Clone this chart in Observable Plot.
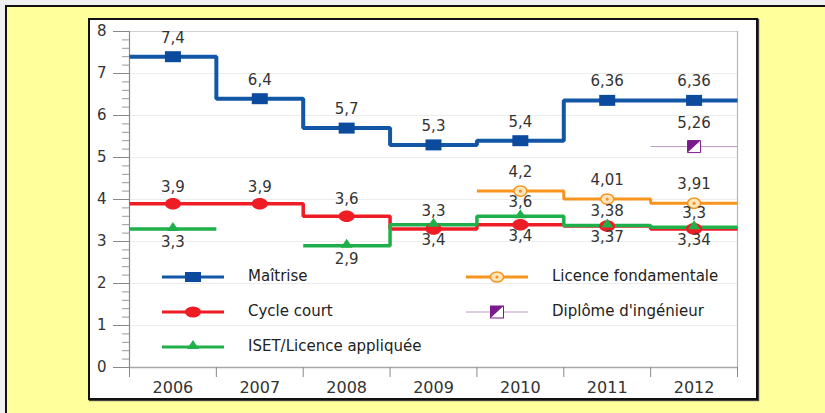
<!DOCTYPE html>
<html>
<head>
<meta charset="utf-8">
<script src="https://cdn.jsdelivr.net/npm/d3@7"></script>
<script src="https://cdn.jsdelivr.net/npm/@observablehq/plot@0.6"></script>
<style>
  html, body { margin: 0; padding: 0; }
  body { width: 825px; height: 413px; background: #f0f0f0; position: relative; overflow: hidden; font-family: "DejaVu Sans", sans-serif; }
  #yellow { position: absolute; left: 5px; top: 5px; right: 0; bottom: 0; background: #ffff9c; border-top: 2px solid #111; border-left: 2px solid #111; }
  #panel { position: absolute; left: 88px; top: 18px; width: 666px; height: 378px; background: #fff; border: 2px solid #111; box-shadow: 1px 1px 1px #444; }
  #chart { position: absolute; left: 0; top: 0; }
  #legend { position: absolute; left: 0; top: 0; width: 825px; height: 413px; pointer-events: none; }
  .lg { position: absolute; font-size: 15px; color: #222; line-height: 18px; white-space: nowrap; }
</style>
</head>
<body>
<div id="yellow"></div>
<div id="panel"></div>
<div id="chart"></div>
<svg id="legend" width="825" height="413"></svg>
<script>
// ---- data ----
const years = [2006, 2007, 2008, 2009, 2010, 2011, 2012];
const maitrise = [7.4, 6.4, 5.7, 5.3, 5.4, 6.36, 6.36];
const cycleCourt = [3.9, 3.9, 3.6, 3.3, 3.4, 3.37, 3.3];
const iset = [3.3, null, 2.9, 3.4, 3.6, 3.38, 3.34];
const licenceFond = [null, null, null, null, 4.2, 4.01, 3.91];
const diplome = [null, null, null, null, null, null, 5.26];

const maitriseLabels = ["7,4", "6,4", "5,7", "5,3", "5,4", "6,36", "6,36"];
const cycleLabels = ["3,9", "3,9", "3,6", "3,4", "3,4", "3,37", "3,34"];
const isetLabels = ["3,3", "", "2,9", "3,3", "3,6", "3,38", "3,3"];
const licenceLabels = ["", "", "", "", "4,2", "4,01", "3,91"];
const diplomeLabels = ["", "", "", "", "", "", "5,26"];

const seriesNames = ["Maîtrise", "Cycle court", "ISET/Licence appliquée", "Licence fondamentale", "Diplôme d'ingénieur"];
const yTicks = [0, 1, 2, 3, 4, 5, 6, 7, 8];

// label placement (below the line?)
const cycleBelow = [false, false, false, true, true, true, true];
const isetBelow = [true, false, true, false, false, false, false];

// ---- styles ----
const colors = {
  "Maîtrise": "#1257a6",
  "Cycle court": "#ee1c24",
  "ISET/Licence appliquée": "#20b04b",
  "Licence fondamentale": "#f7941d",
  "Diplôme d'ingénieur": "#7b1a8e"
};

const seriesValues = [maitrise, cycleCourt, iset, licenceFond, diplome];
const seriesLabels = [maitriseLabels, cycleLabels, isetLabels, licenceLabels, diplomeLabels];

function stepData(name, values) {
  const out = [];
  values.forEach((v, i) => {
    if (v == null) out.push({s: name, x: years[i], y: NaN});
    else {
      out.push({s: name, x: years[i] - 0.5, y: v});
      out.push({s: name, x: years[i] + 0.5, y: v});
    }
  });
  return out;
}
function pointData(name, values, labels, below) {
  return values.map((v, i) => ({s: name, x: years[i], y: v, t: labels[i], below: below ? below[i] : false}))
    .filter(d => d.y != null);
}

const steps = seriesNames.map((n, k) => stepData(n, seriesValues[k]));
const pts = seriesNames.map((n, k) => pointData(n, seriesValues[k], seriesLabels[k], k === 1 ? cycleBelow : k === 2 ? isetBelow : null));

// custom symbols
const rectSym = {draw(c) { c.rect(-8, -5.5, 16, 11); }};
function ellipse(c, rx, ry) {
  const k = 0.5523;
  c.moveTo(rx, 0);
  c.bezierCurveTo(rx, ry * k, rx * k, ry, 0, ry);
  c.bezierCurveTo(-rx * k, ry, -rx, ry * k, -rx, 0);
  c.bezierCurveTo(-rx, -ry * k, -rx * k, -ry, 0, -ry);
  c.bezierCurveTo(rx * k, -ry, rx, -ry * k, rx, 0);
  c.closePath();
}
const redSym = {draw(c) { ellipse(c, 8, 5.8); }};
const ringSym = {draw(c) { ellipse(c, 6.5, 5.2); }};
const triSym = {draw(c) { c.moveTo(0, -7); c.lineTo(6, 2); c.lineTo(-6, 2); c.closePath(); }};
const sqSym = {draw(c) { c.rect(-6.5, -6, 13, 12); }};
const halfSym = {draw(c) { c.moveTo(-6.5, -6); c.lineTo(6.5, -6); c.lineTo(-6.5, 6); c.closePath(); }};

const widths = [4, 3.5, 3.5, 3, 1];
const lineColors = [colors["Maîtrise"], colors["Cycle court"], colors["ISET/Licence appliquée"], colors["Licence fondamentale"], "#b99ac6"];

const txt = {fill: "#333", fontSize: 15, fontFamily: "DejaVu Sans"};

const chart = Plot.plot({
  width: 825,
  height: 413,
  marginLeft: 129,
  marginRight: 88,
  marginTop: 31,
  marginBottom: 46,
  x: {domain: [2005.5, 2012.5], label: null},
  y: {domain: [0, 8], label: null},
  style: {background: "transparent", fontFamily: "DejaVu Sans", overflow: "visible"},
  marks: [
    Plot.ruleY(yTicks.filter(d => d > 0 && d < 8), {stroke: "#ececec", strokeWidth: 1}),
    Plot.ruleY([8], {stroke: "#cfcfcf", strokeWidth: 1.2}),
    Plot.ruleX([2012.5], {stroke: "#b5b5b5", strokeWidth: 1.2}),
    Plot.ruleX([2005.5], {stroke: "#8a8a8a", strokeWidth: 1.2}),
    Plot.ruleY([0], {stroke: "#a8a8a8", strokeWidth: 1.5}),
    Plot.axisY({ticks: yTicks, tickSize: 16, tickPadding: 7, stroke: "#888", fill: "#333", fontSize: 15, label: null, tickFormat: d => String(d)}),
    Plot.axisY({ticks: d3.range(0, 8.001, 0.2).filter(v => Math.abs(v - Math.round(v)) > 1e-6), tickSize: 7, stroke: "#999", label: null, tickFormat: () => ""}),
    Plot.axisX({ticks: d3.range(2005.5, 2013, 1), tickSize: 10, stroke: "#888", label: null, tickFormat: () => ""}),
    Plot.axisX({ticks: years, tickSize: 0, tickPadding: 14, fill: "#333", fontSize: 16, label: null, tickFormat: d => String(d)}),
    // lines (drawing order: blue, red, green, orange, purple)
    ...steps.map((data, k) => Plot.line(data, {x: "x", y: "y", stroke: lineColors[k], strokeWidth: widths[k], curve: "linear", strokeLinejoin: "miter", strokeLinecap: "butt"})),
    // markers
    Plot.dot(pts[0], {x: "x", y: "y", symbol: rectSym, fill: "#0c4a9e", stroke: "none"}),
    Plot.dot(pts[1], {x: "x", y: "y", symbol: redSym, fill: "#ee1c24", stroke: "none"}),
    Plot.dot(pts[2], {x: "x", y: "y", symbol: triSym, fill: "#20b04b", stroke: "none"}),
    Plot.dot(pts[3], {x: "x", y: "y", symbol: ringSym, fill: "#fde6bd", stroke: "#f7941d", strokeWidth: 1.5}),
    Plot.dot(pts[3], {x: "x", y: "y", r: 1.6, fill: "#f7941d", stroke: "none"}),
    Plot.dot(pts[4], {x: "x", y: "y", symbol: sqSym, fill: "#fff", stroke: "#7b1a8e", strokeWidth: 1}),
    Plot.dot(pts[4], {x: "x", y: "y", symbol: halfSym, fill: "#7b1a8e", stroke: "none"}),
    // value labels
    Plot.text(pts[0], {x: "x", y: "y", text: "t", dy: -19, ...txt}),
    Plot.text(pts[1].filter(d => !d.below), {x: "x", y: "y", text: "t", dy: -17, ...txt}),
    Plot.text(pts[1].filter(d => d.below), {x: "x", y: "y", text: "t", dy: 11, ...txt}),
    Plot.text(pts[2].filter(d => !d.below && d.t), {x: "x", y: "y", text: "t", dy: -14, ...txt}),
    Plot.text(pts[2].filter(d => d.below && d.t), {x: "x", y: "y", text: "t", dy: 13, ...txt}),
    Plot.text(pts[3], {x: "x", y: "y", text: "t", dy: -19, ...txt}),
    Plot.text(pts[4], {x: "x", y: "y", text: "t", dy: -23, ...txt})
  ]
});
document.getElementById("chart").appendChild(chart);

// ---- legend (inside plot area) ----
const lg = d3.select("#legend");
const legendItems = [
  {name: seriesNames[0], x: 162, y: 277},
  {name: seriesNames[1], x: 162, y: 312},
  {name: seriesNames[2], x: 162, y: 347},
  {name: seriesNames[3], x: 466, y: 277},
  {name: seriesNames[4], x: 466, y: 312}
];
legendItems.forEach((it, k) => {
  const cx = it.x + 31;
  lg.append("line").attr("x1", it.x).attr("x2", it.x + 62).attr("y1", it.y).attr("y2", it.y)
    .attr("stroke", lineColors[k]).attr("stroke-width", k === 4 ? 1 : 3);
  const g = lg.append("g").attr("transform", `translate(${cx},${it.y})`);
  if (k === 0) { g.append("rect").attr("x", -8).attr("y", -5).attr("width", 16).attr("height", 10).attr("fill", "#0c4a9e"); }
  if (k === 1) { g.append("ellipse").attr("rx", 8).attr("ry", 5.5).attr("fill", "#ee1c24"); }
  if (k === 2) { g.append("path").attr("d", "M0,-7L6,2L-6,2Z").attr("fill", "#20b04b"); }
  if (k === 3) {
    g.append("ellipse").attr("rx", 6.5).attr("ry", 5).attr("fill", "#fde6bd").attr("stroke", "#f7941d").attr("stroke-width", 1.5);
    g.append("circle").attr("r", 1.6).attr("fill", "#f7941d");
  }
  if (k === 4) {
    g.append("rect").attr("x", -6.5).attr("y", -6).attr("width", 13).attr("height", 12).attr("fill", "#fff").attr("stroke", "#7b1a8e");
    g.append("path").attr("d", "M-6.5,-6L6.5,-6L-6.5,6Z").attr("fill", "#7b1a8e");
  }
  const d = document.createElement("div");
  d.className = "lg";
  d.textContent = it.name;
  d.style.left = (it.x + 86) + "px";
  d.style.top = (it.y - 10) + "px";
  document.body.appendChild(d);
});
</script>
</body>
</html>
